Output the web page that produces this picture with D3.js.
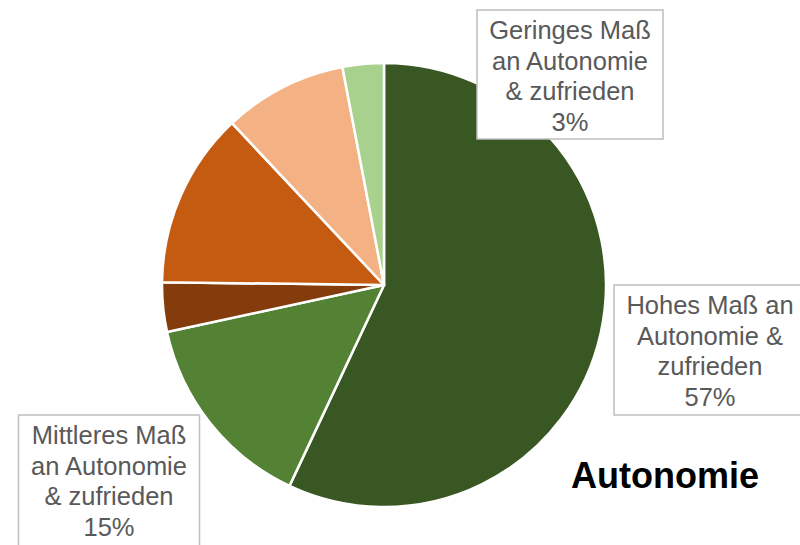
<!DOCTYPE html>
<html>
<head>
<meta charset="utf-8">
<script src="https://cdn.jsdelivr.net/npm/d3@7"></script>
<style>
  body { margin: 0; background: #fff; }
  text { font-family: "Liberation Sans", Arial, sans-serif; }
</style>
</head>
<body>
<div id="chart"></div>
<script>
// Daten
const categories = [
  "Hohes Maß an Autonomie & zufrieden",
  "Mittleres Maß an Autonomie & zufrieden",
  "Hohes Maß an Autonomie & unzufrieden",
  "Mittleres Maß an Autonomie & unzufrieden",
  "Geringes Maß an Autonomie & unzufrieden",
  "Geringes Maß an Autonomie & zufrieden"
]
const values = [57.0, 14.6, 3.6, 12.8, 9.0, 3.0]
const colors = ["#385723", "#548235", "#843C0C", "#C55A11", "#F4B183", "#A9D18E"]
// Beschriftungen (nur die sichtbaren), Zeilen wie im Bild umbrochen
const labelLines = [
  ["Hohes Maß an", "Autonomie &", "zufrieden", "57%"],
  ["Mittleres Maß", "an Autonomie", "& zufrieden", "15%"],
  null,
  null,
  null,
  ["Geringes Maß", "an Autonomie", "& zufrieden", "3%"]
]
const title = "Autonomie"

const width = 800
const height = 545
const center = { x: 384, y: 285 }
const radius = 222

// Position der Beschriftungsboxen (Mitte, oben) und Größe
const labelBoxes = [
  { cx: 710, top: 285, w: 192, h: 130 },
  { cx: 109, top: 415, w: 181, h: 135 },
  null, null, null,
  { cx: 570, top: 10, w: 186, h: 129 }
]

const svg = d3.select("#chart").append("svg").attr("width", width).attr("height", height)
const pieGroup = svg.append("g").attr("transform", `translate(${center.x},${center.y})`)

const pie = d3.pie().sort(null).value(d => d)
const arc = d3.arc().innerRadius(0).outerRadius(radius)

pieGroup.selectAll(".slice").data(pie(values)).enter().append("path")
  .attr("class", "slice")
  .attr("d", arc)
  .attr("fill", (d, i) => colors[i])
  .attr("stroke", "#fff")
  .attr("stroke-width", 2.5)
  .attr("stroke-linejoin", "round")

// Beschriftungen
const lineHeight = 30.7
labelLines.forEach((lines, i) => {
  if (!lines) return
  const b = labelBoxes[i]
  const g = svg.append("g").attr("class", "label")
  g.append("rect")
    .attr("x", b.cx - b.w / 2).attr("y", b.top)
    .attr("width", b.w).attr("height", b.h)
    .attr("fill", "#fff").attr("stroke", "#BFBFBF").attr("stroke-width", 1.5)
  g.selectAll("text").data(lines).enter().append("text")
    .attr("x", b.cx)
    .attr("y", (d, j) => b.top + 29 + j * lineHeight)
    .attr("text-anchor", "middle")
    .attr("font-size", 25.5)
    .attr("fill", "#595959")
    .text(d => d)
})

svg.append("text")
  .attr("x", 665).attr("y", 488)
  .attr("text-anchor", "middle")
  .attr("font-size", 36).attr("font-weight", "bold")
  .attr("fill", "#000")
  .text(title)
</script>
</body>
</html>
